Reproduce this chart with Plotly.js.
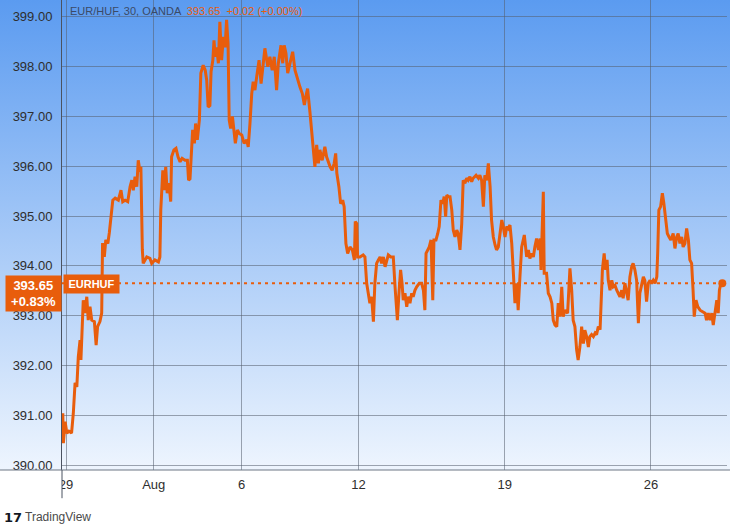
<!DOCTYPE html>
<html><head><meta charset="utf-8">
<script src="https://cdn.plot.ly/plotly-3.0.1.min.js"></script>
<style>
html,body{margin:0;padding:0;background:#fff;}
#chart{width:730px;height:532px;background:linear-gradient(to bottom,#5b9bf0 0px,#eef5fe 470px,#ffffff 470px,#ffffff 532px);}
</style></head><body><div id="chart"></div>
<script>
// ---- DATA: EUR/HUF, 30-minute, OANDA. x = trading days since Mon 29 Jul (weekends skipped)
const week1Days = [-0.14,-0.11,-0.09,-0.03,0.03,0.10,0.19,0.25,0.31,0.37,0.42,0.48,0.51,0.54,0.59,0.65,0.71,0.76,0.82,0.88,0.97,1.03,1.08,1.16,1.22,1.25,1.31,1.36,1.43,1.48,1.54,1.60,1.68,1.79,1.88,1.94,2.02,2.11,2.19,2.25,2.30,2.36,2.42,2.47,2.53,2.56,2.61,2.64,2.76,2.87,2.93,3.04,3.16,3.21,3.24,3.31,3.35,3.41,3.46,3.52,3.58,3.61,3.69,3.76,3.83,3.90,3.97,4.07,4.15,4.19,4.24,4.28,4.33,4.39,4.43,4.49,4.56,4.61,4.69,4.76,4.81,4.86,4.92,4.96];
const week1Rates = [390.56,391.04,390.44,390.87,390.64,390.68,390.64,391.04,391.65,391.57,392.17,392.51,392.11,392.65,393.31,393.05,393.38,392.91,393.18,392.91,392.88,392.41,392.78,392.88,393.05,394.46,394.18,394.52,394.45,394.66,394.99,395.32,395.36,395.32,395.52,395.29,395.32,395.29,395.59,395.72,395.52,395.79,395.59,396.12,395.89,395.99,394.32,394.05,394.18,394.15,394.05,394.12,394.08,394.18,395.12,395.92,395.52,395.99,395.46,395.66,395.29,396.19,396.33,396.36,396.19,396.09,396.16,396.12,396.12,395.72,395.75,396.26,396.73,396.46,396.86,396.53,396.93,397.87,398.03,397.93,397.73,397.19,397.22,397.90];

const week2Days = [5.02,5.06,5.10,5.15,5.21,5.26,5.32,5.38,5.44,5.49,5.54,5.58,5.63,5.69,5.74,5.79,5.86,5.92,6.01,6.09,6.18,6.23,6.29,6.35,6.40,6.46,6.52,6.60,6.67,6.75,6.80,6.90,6.97,7.05,7.12,7.20,7.26,7.35,7.41,7.46,7.52,7.58,7.66,7.75,7.83,7.92,8.00,8.08,8.15,8.21,8.26,8.34,8.40,8.45,8.51,8.57,8.63,8.68,8.76,8.85,8.91,9.03,9.10,9.17,9.22,9.26,9.33,9.39,9.46,9.51,9.57,9.63,9.71,9.79,9.86,9.89,9.94,9.97];
const week2Rates = [398.13,398.53,398.20,398.39,398.07,398.90,398.13,398.60,398.39,398.94,398.47,396.93,396.76,397.00,396.73,396.46,396.73,396.66,396.63,396.46,396.53,396.39,396.86,397.46,397.70,397.53,397.80,398.13,397.66,398.13,398.37,398.00,398.20,397.93,398.20,397.53,398.07,398.43,398.07,398.43,398.27,397.87,398.07,398.30,397.93,397.73,397.59,397.46,397.23,397.43,397.56,397.09,396.73,396.39,395.99,396.43,396.06,396.33,396.12,396.39,396.19,395.99,395.92,396.06,396.26,395.86,395.59,395.25,395.32,395.19,394.45,394.25,394.38,394.32,394.12,394.89,394.85,394.18];

const week3Days = [10.05,10.16,10.22,10.28,10.34,10.39,10.45,10.51,10.56,10.62,10.68,10.74,10.79,10.85,10.91,10.96,11.02,11.10,11.19,11.25,11.28,11.33,11.39,11.44,11.49,11.53,11.59,11.65,11.70,11.76,11.82,11.87,11.93,11.99,12.08,12.16,12.22,12.27,12.31,12.37,12.42,12.48,12.54,12.58,12.65,12.71,12.76,12.82,12.88,12.93,12.98,13.02,13.07,13.13,13.19,13.24,13.30,13.36,13.41,13.47,13.53,13.58,13.64,13.70,13.75,13.81,13.87,13.92,14.02,14.10,14.15,14.21,14.27,14.32,14.38,14.44,14.50,14.55,14.61,14.67,14.72,14.78,14.84,14.90,14.95];
const week3Rates = [394.18,394.22,394.18,393.65,393.38,393.25,393.38,392.88,393.65,394.05,394.12,394.18,394.05,394.18,393.98,394.12,394.22,394.18,394.18,393.58,393.25,392.91,393.51,393.92,393.65,393.31,393.45,393.18,393.38,393.25,393.45,393.38,393.51,393.58,393.65,393.65,393.51,393.11,394.25,394.32,394.38,394.52,393.31,394.52,394.52,394.65,394.79,395.32,395.25,395.39,394.99,395.42,395.39,395.39,395.12,394.72,394.58,394.72,394.65,394.32,394.85,395.72,395.66,395.76,395.72,395.79,395.69,395.76,395.82,395.76,395.82,395.72,395.19,395.82,395.72,396.06,395.59,394.92,394.58,394.42,394.32,394.38,394.65,394.92,394.79];

const week4Days = [15.01,15.07,15.12,15.18,15.24,15.29,15.35,15.41,15.46,15.52,15.58,15.67,15.75,15.81,15.86,15.92,15.98,16.03,16.09,16.15,16.21,16.24,16.32,16.35,16.43,16.49,16.55,16.61,16.66,16.72,16.78,16.83,16.89,16.95,17.00,17.06,17.15,17.23,17.29,17.34,17.40,17.46,17.51,17.57,17.63,17.69,17.74,17.80,17.86,17.91,17.97,18.03,18.09,18.14,18.20,18.26,18.29,18.34,18.40,18.45,18.50,18.54,18.60,18.66,18.71,18.77,18.83,18.88,18.94,19.00,19.05,19.11,19.17,19.22,19.28,19.34,19.39,19.45,19.51,19.57,19.62,19.68,19.74,19.79,19.85,19.91,19.97];
const week4Rates = [394.58,394.79,394.75,394.82,394.45,393.92,393.25,393.65,393.11,393.78,394.38,394.62,394.18,394.32,394.15,394.25,394.18,394.38,394.55,394.32,394.55,393.92,395.49,393.85,393.85,393.45,393.38,393.25,392.91,392.81,392.78,393.25,392.98,393.58,392.98,393.11,393.05,393.95,393.51,392.91,392.78,392.31,392.11,392.37,392.78,392.44,392.71,392.58,392.37,392.58,392.62,392.58,392.65,392.62,392.78,392.72,393.31,393.92,394.25,393.92,394.12,393.71,393.51,393.71,393.58,393.61,393.51,393.45,393.38,393.51,393.35,393.65,393.45,393.31,393.78,393.98,394.05,393.92,393.71,392.85,393.45,393.65,393.78,393.71,393.28,393.65,393.71];

const week5Days = [20.02,20.08,20.14,20.20,20.23,20.27,20.33,20.39,20.44,20.50,20.56,20.62,20.68,20.76,20.82,20.88,20.93,20.99,21.05,21.10,21.16,21.22,21.28,21.33,21.39,21.44,21.48,21.54,21.60,21.68,21.75,21.85,21.90,21.96,22.02,22.08,22.13,22.19,22.25,22.30,22.34,22.39,22.44];
const week5Rates = [393.65,393.71,393.65,393.78,394.25,395.12,395.19,395.46,395.26,394.99,394.65,394.58,394.52,394.65,394.35,394.58,394.65,394.45,394.58,394.38,394.45,394.75,394.52,394.12,394.05,393.51,392.98,393.31,393.18,393.11,393.08,393.05,392.91,393.05,392.91,393.05,392.81,393.05,393.31,393.05,393.51,393.65,393.65];

const tickDays = [0, 3, 6, 10, 15, 20];
const tickLabels = ['29', 'Aug', '6', '12', '19', '26'];
const priceTicks = [390, 391, 392, 393, 394, 395, 396, 397, 398, 399];
const symbolName = 'EURHUF';
const headerText = 'EUR/HUF, 30, OANDA';
const barChange = '+0.02 (+0.00%)';
const periodChange = '+0.83%';

// ---- assemble
const tradingDay = [].concat(week1Days, week2Days, week3Days, week4Days, week5Days);
const rate = [].concat(week1Rates, week2Rates, week3Rates, week4Rates, week5Rates);
const n = Math.min(tradingDay.length, rate.length);
const xs = tradingDay.slice(0, n), ys = rate.slice(0, n);
const lastX = xs[n - 1], lastY = ys[n - 1];
const lastTxt = lastY.toFixed(2);

const ORANGE = '#e85d0c';
const GRID = 'rgba(85,95,110,0.55)';
const FONT = 'Liberation Sans, Arial, sans-serif';
const xMin = -0.137, xMax = 22.6;

const traces = [
  {x: xs, y: ys, type: 'scatter', mode: 'lines',
   line: {color: ORANGE, width: 3}, hoverinfo: 'skip'},
  {x: [lastX], y: [lastY], type: 'scatter', mode: 'markers',
   marker: {color: ORANGE, size: 8}, hoverinfo: 'skip'}
];

const layout = {
  width: 730, height: 532,
  margin: {l: 62, r: 3, t: 0, b: 62},
  paper_bgcolor: 'rgba(0,0,0,0)', plot_bgcolor: 'rgba(0,0,0,0)',
  showlegend: false,
  font: {family: FONT, size: 13, color: '#2e2e2e'},
  xaxis: {range: [xMin, xMax], tickmode: 'array', tickvals: tickDays, ticktext: tickLabels,
          showgrid: true, gridcolor: GRID, gridwidth: 1, zeroline: false, showline: false,
          ticks: '', ticklabelstandoff: 5, tickfont: {family: FONT, size: 13, color: '#2e2e2e'},
          fixedrange: true},
  yaxis: {range: [389.9, 399.34], tickmode: 'array', tickvals: priceTicks,
          tickformat: '.2f', showgrid: true, gridcolor: GRID, gridwidth: 1, zeroline: false,
          showline: true, linecolor: '#4a5260', linewidth: 1, ticks: '',
          ticklabelstandoff: 6, tickfont: {family: FONT, size: 13, color: '#2e2e2e'},
          fixedrange: true},
  shapes: [
    // date strip left of the price axis (clips the first date label like the original)
    {type: 'rect', xref: 'paper', yref: 'paper', x0: -0.0932, x1: 0, y0: 0, y1: -0.06,
     fillcolor: '#ffffff', line: {width: 0}},
    // bottom axis line across the full width
    {type: 'line', xref: 'paper', yref: 'paper', x0: -0.0932, x1: 1.0045, y0: 0, y1: 0,
     line: {color: '#6d7684', width: 1}},
    // left axis line running down through the date strip
    {type: 'line', xref: 'paper', yref: 'paper', x0: 0, x1: 0, y0: 0, y1: -0.06,
     line: {color: '#4a5260', width: 1}},
    // last-price dotted line
    {type: 'line', xref: 'x', yref: 'y', x0: xMin, x1: lastX, y0: lastY, y1: lastY,
     line: {color: ORANGE, width: 2, dash: '3px,4px'}}
  ],
  annotations: [
    {xref: 'paper', yref: 'paper', x: 0, y: 1, xanchor: 'left', yanchor: 'top',
     xshift: 6, yshift: -3, showarrow: false, align: 'left',
     text: headerText + '  <span style="color:' + ORANGE + '">' + lastTxt + '  ' + barChange + '</span>',
     font: {family: FONT, size: 11, color: '#3b4a66'}},
    {xref: 'paper', yref: 'y', x: 0, y: lastY, xanchor: 'right', yanchor: 'top', yshift: 8,
     showarrow: false, text: '<b>' + lastTxt + '</b><br><b>' + periodChange + '</b>',
     bgcolor: ORANGE, borderpad: 2, width: 51, height: 31, align: 'center', valign: 'middle',
     font: {family: FONT, size: 13, color: '#ffffff'}},
    {xref: 'paper', yref: 'y', x: 0, y: lastY, xanchor: 'left', yanchor: 'middle', xshift: 1, yshift: -1,
     showarrow: false, text: '<b>' + symbolName + '</b>',
     bgcolor: ORANGE, borderpad: 2, width: 51, height: 14,
     font: {family: FONT, size: 11, color: '#ffffff'}},
    {xref: 'paper', yref: 'paper', x: 0, y: 0, xanchor: 'left', yanchor: 'middle',
     xshift: -60, yshift: -47, showarrow: false, text: '<b>17</b>',
     font: {family: 'DejaVu Sans, sans-serif', size: 13, color: '#131722'}},
    {xref: 'paper', yref: 'paper', x: 0, y: 0, xanchor: 'left', yanchor: 'middle',
     xshift: -39, yshift: -47, showarrow: false, text: 'TradingView',
     font: {family: FONT, size: 12, color: '#4a4a4a'}}
  ]
};

Plotly.newPlot('chart', traces, layout, {displayModeBar: false, staticPlot: true});
</script>
</body></html>
